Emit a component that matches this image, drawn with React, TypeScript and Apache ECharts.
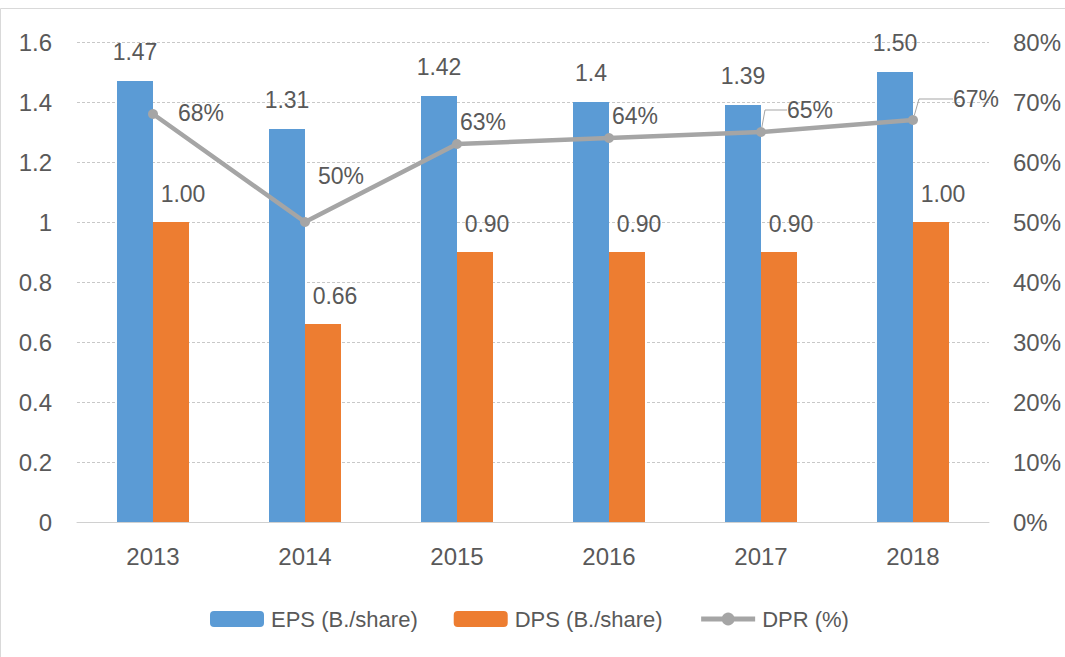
import React, { useEffect, useRef } from 'react';
import * as echarts from 'echarts';

const years = ['2013', '2014', '2015', '2016', '2017', '2018'];
const eps = [1.47, 1.31, 1.42, 1.4, 1.39, 1.5];
const epsLabels = ['1.47', '1.31', '1.42', '1.4', '1.39', '1.50'];
const dps = [1.0, 0.66, 0.9, 0.9, 0.9, 1.0];
const dpsLabels = ['1.00', '0.66', '0.90', '0.90', '0.90', '1.00'];
const dpr = [68, 50, 63, 64, 65, 67];
const seriesNames = ['EPS (B./share)', 'DPS (B./share)', 'DPR (%)'];

// label placement tweaks for the DPR line labels (dx, dy)
const dprLabelShift = [
  [15, -1],
  [3, -46],
  [-7, -22],
  [-7, -22],
  [16, -22],
  [30, -21],
];
const dprLeader = [0, 0, 0, 0, 22, 34];

const FONT = '"Liberation Sans", Arial, sans-serif';
const TXT = '#595959';

export default function App() {
  const ref = useRef<HTMLDivElement>(null);
  useEffect(() => {
    if (!ref.current) return;
    const chart = echarts.init(ref.current, null, { renderer: 'svg' });
    chart.setOption({
      animation: false,
      backgroundColor: '#ffffff',
      textStyle: { fontFamily: FONT },
      graphic: [
        {
          type: 'rect',
          shape: { x: 0.5, y: 8.5, width: 1066, height: 660 },
          style: { fill: 'none', stroke: '#D9D9D9', lineWidth: 1 },
          silent: true,
        },
      ],
      grid: { left: 77, right: 76, top: 42, bottom: 135 },
      legend: {
        left: 205,
        top: 603,
        itemWidth: 54,
        itemHeight: 16,
        itemGap: 36,
        lineStyle: { width: 5 },
        textStyle: { fontSize: 22, color: TXT, fontFamily: FONT, padding: [0, 0, 0, 2] },
        data: seriesNames,
      },
      xAxis: {
        type: 'category',
        data: years,
        axisTick: { show: false },
        axisLine: { lineStyle: { color: '#D0D0D0', width: 1 } },
        axisLabel: { fontSize: 24, color: TXT, margin: 22, fontFamily: FONT },
      },
      yAxis: [
        {
          type: 'value',
          min: 0,
          max: 1.6,
          interval: 0.2,
          axisLine: { show: false },
          axisTick: { show: false },
          axisLabel: { fontSize: 24, color: TXT, margin: 25, fontFamily: FONT },
          splitLine: { lineStyle: { color: '#C8C8C8', type: [3, 2], width: 1 } },
        },
        {
          type: 'value',
          min: 0,
          max: 80,
          interval: 10,
          axisLine: { show: false },
          axisTick: { show: false },
          splitLine: { show: false },
          axisLabel: {
            fontSize: 24,
            color: TXT,
            margin: 24,
            fontFamily: FONT,
            formatter: '{value}%',
          },
        },
      ],
      series: [
        {
          name: seriesNames[0],
          type: 'bar',
          data: eps,
          barWidth: 36,
          barGap: '0%',
          itemStyle: { color: '#5B9BD5' },
          label: {
            show: true,
            position: 'top',
            distance: 18,
            fontSize: 23,
            color: TXT,
            fontFamily: FONT,
            formatter: (p: any) => epsLabels[p.dataIndex],
          },
        },
        {
          name: seriesNames[1],
          type: 'bar',
          data: dps,
          barWidth: 36,
          itemStyle: { color: '#ED7D31' },
          label: {
            show: true,
            position: 'top',
            distance: 17,
            offset: [12, 0],
            fontSize: 23,
            color: TXT,
            fontFamily: FONT,
            formatter: (p: any) => dpsLabels[p.dataIndex],
          },
        },
        {
          name: seriesNames[2],
          type: 'line',
          yAxisIndex: 1,
          data: dpr.map((v, i) => ({
            value: v,
            labelLine: {
              show: dprLeader[i] > 0,
              length2: dprLeader[i],
              lineStyle: { color: '#A5A5A5', width: 1 },
            },
          })),
          symbol: 'circle',
          symbolSize: 10,
          lineStyle: { color: '#A5A5A5', width: 4.5 },
          itemStyle: { color: '#A5A5A5' },
          label: {
            show: true,
            position: 'right',
            distance: 5,
            fontSize: 23,
            color: TXT,
            fontFamily: FONT,
            formatter: '{c}%',
          },
          labelLayout: (p: any) => ({
            dx: dprLabelShift[p.dataIndex][0],
            dy: dprLabelShift[p.dataIndex][1],
          }),
          z: 5,
        },
      ],
    });
    return () => chart.dispose();
  }, []);
  return (
    <div
      ref={ref}
      style={{ position: 'absolute', left: 0, top: 0, width: 1065, height: 657 }}
    />
  );
}
